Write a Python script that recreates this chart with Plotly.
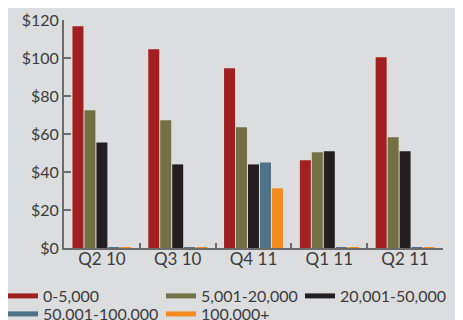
import plotly.graph_objects as go

categories = ["Q2 10", "Q3 10", "Q4 11", "Q1 11", "Q2 11"]
series_names = ["0-5,000", "5,001-20,000", "20,001-50,000", "50,001-100,000", "100,000+"]
v_0_5k = [116.7, 104.6, 94.6, 46.2, 100.4]
v_5k_20k = [72.5, 67.2, 63.5, 50.4, 58.3]
v_20k_50k = [55.5, 44.0, 44.0, 50.9, 50.9]
v_50k_100k = [0.4, 0.4, 45.0, 0.4, 0.4]
v_100k_plus = [0.4, 0.4, 31.4, 0.4, 0.4]
y_tickvals = [0, 20, 40, 60, 80, 100, 120]
y_ticktext = ["$0", "$20", "$40", "$60", "$80", "$100", "$120"]

colors = ["#A21F21", "#737044", "#231F20", "#4E7387", "#F58A1F"]
values = [v_0_5k, v_5k_20k, v_20k_50k, v_50k_100k, v_100k_plus]
legend_ids = ["legend", "legend2", "legend3", "legend4", "legend5"]

FONT = "Lato"
TXT = "#3b3b3b"
W, H = 463, 320
ML, MR, MT, MB = 56, 28, 12, 80
PW = W - ML - MR

fig = go.Figure()
for name, vals, col in zip(series_names, values, colors):
    fig.add_trace(go.Bar(x=categories, y=vals, name=name, marker=dict(color=col, line=dict(width=0)),
                         showlegend=False))
# legend-only entries (thick line swatches), drawn on a hidden helper axis
for name, col, lg in zip(series_names, colors, legend_ids):
    fig.add_trace(go.Scatter(x=[0], y=[0], mode="lines", name=name, xaxis="x2", yaxis="y2",
                             line=dict(color=col, width=5), legend=lg, showlegend=True,
                             hoverinfo="skip"))

# legend positions in figure pixels (left edge, row centre)
leg_pos = [(-5, 288), (153, 288), (292, 288), (-5, 306), (153, 306)]
leg_common = dict(font=dict(family=FONT, size=16, color=TXT), bgcolor="rgba(0,0,0,0)",
                  borderwidth=0, itemwidth=30, xref="paper", yref="container",
                  xanchor="left", yanchor="middle")
layout_legends = {}
for lg, (lx, ly) in zip(legend_ids, leg_pos):
    layout_legends[lg] = dict(x=(lx - ML) / PW, y=1 - ly / H, **leg_common)

fig.update_layout(
    width=W, height=H,
    margin=dict(l=ML, r=MR, t=MT, b=MB, autoexpand=False),
    paper_bgcolor="#DCDDDF", plot_bgcolor="#DCDDDF",
    barmode="group", bargap=0.21, bargroupgap=0.083,
    font=dict(family=FONT, size=16, color=TXT),
    xaxis=dict(type="category", showgrid=False, showline=True, linecolor="#6b6b6b", linewidth=2,
               ticks="inside", tickson="boundaries", ticklen=5, tickcolor="#6b6b6b", tickwidth=2,
               tickfont=dict(family=FONT, size=17, color=TXT), zeroline=False,
               ticklabelstandoff=-5),
    yaxis=dict(range=[0, 120], showgrid=False, showline=True, linecolor="#6b6b6b", linewidth=2,
               ticks="inside", ticklen=7, tickcolor="#6b6b6b", tickwidth=2,
               tickvals=y_tickvals, ticktext=y_ticktext, zeroline=False,
               tickfont=dict(family=FONT, size=16, color=TXT)),
    xaxis2=dict(domain=[0, 0.01], range=[10, 11], visible=False, anchor="y2"),
    yaxis2=dict(domain=[0, 0.01], range=[10, 11], visible=False, anchor="x2"),
    **layout_legends,
)
fig.write_html("out.html")
